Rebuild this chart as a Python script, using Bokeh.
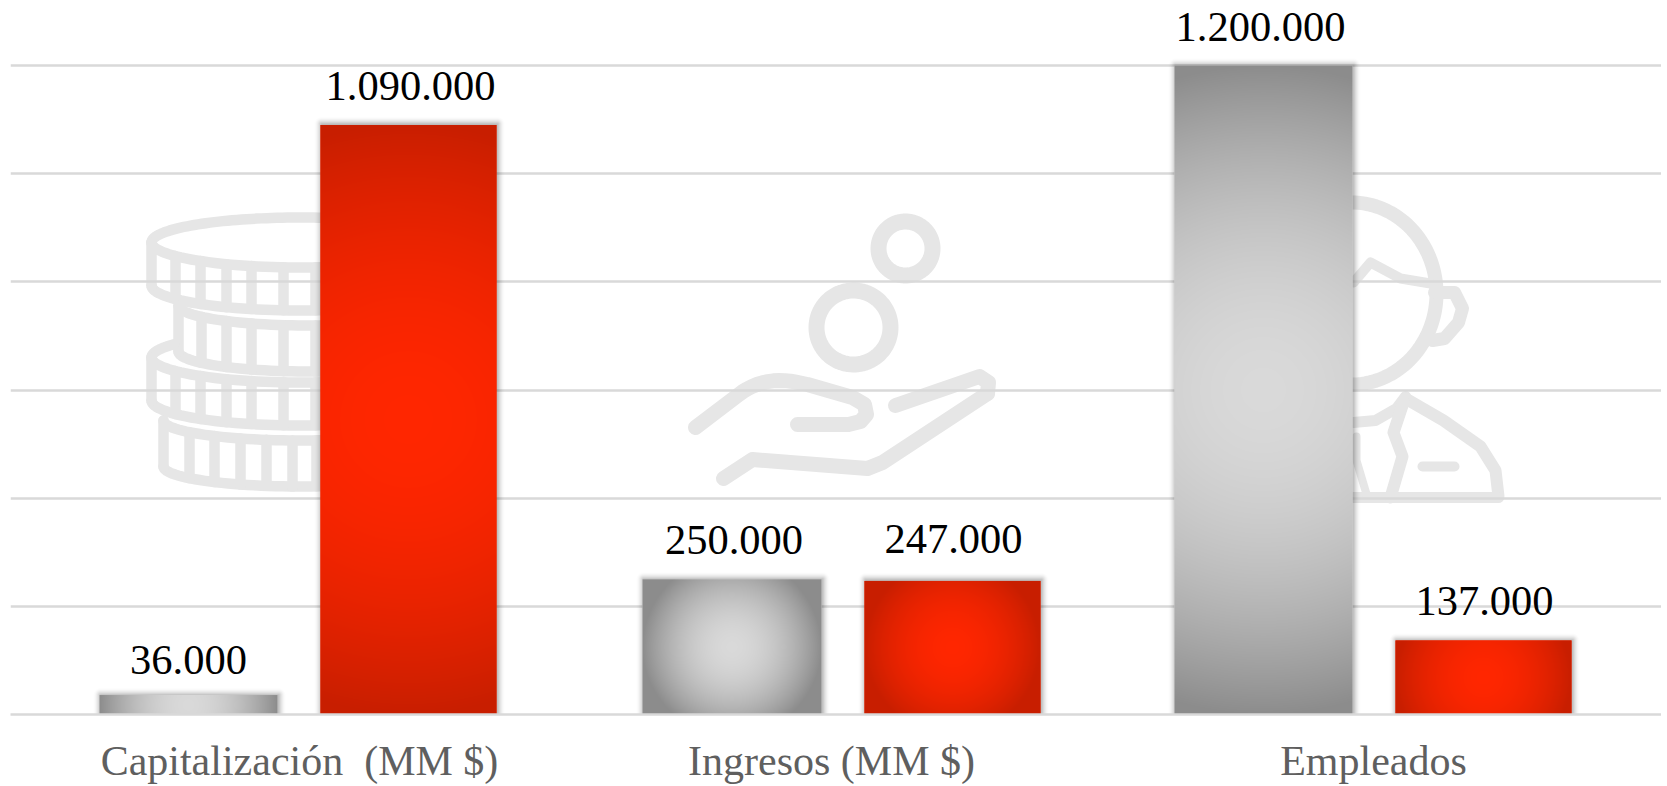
import numpy as np
from bokeh.core.properties import value
from bokeh.embed import file_html
from bokeh.models import FixedTicker, Range1d
from bokeh.plotting import figure
from bokeh.resources import INLINE

# ---------- data ----------
categories = ["Capitalización \u00a0(MM $)", "Ingresos (MM $)", "Empleados"]
series_gray = [36000, 250000, 1200000]
series_red = [1090000, 247000, 137000]
y_ticks = [0, 200000, 400000, 600000, 800000, 1000000, 1200000]

# ---------- layout (page pixels) ----------
FRAME_L, FRAME_R, FRAME_T, FRAME_B = 10, 1661, 0, 714
PAGE_H = 786
TOP_GRID_PX = 65
gray_edges = [(99, 277), (642, 821), (1174, 1352)]
red_edges = [(320, 496), (864, 1040), (1395, 1571)]
label_ticks = [299, 831, 1373]
gray_label_gap = [35, 39, 39]
red_label_gap = [39, 42, 39]
gray_label_shift = [0, 2, -3]
red_label_shift = [2, 1, 1]
FONT = "Liberation Serif"
ICON = "#e6e6e6"
GRID = "#d9d9d9"

px_per_unit = (FRAME_B - TOP_GRID_PX) / 1200000
y_end = (FRAME_B - FRAME_T) / px_per_unit

p = figure(width=FRAME_R, height=PAGE_H, output_backend="svg", toolbar_location=None,
           x_range=Range1d(FRAME_L, FRAME_R), y_range=Range1d(0, y_end),
           min_border_left=FRAME_L, min_border_right=0, min_border_top=0,
           min_border_bottom=PAGE_H - FRAME_B, outline_line_color=None,
           background_fill_color="white", border_fill_color="white")
p.extra_y_ranges = {"px": Range1d(FRAME_B, FRAME_T)}

# ---------- axes and grid ----------
p.yaxis.visible = False
p.xgrid.visible = False
p.ygrid.ticker = FixedTicker(ticks=y_ticks)
p.ygrid.grid_line_color = GRID
p.ygrid.grid_line_width = 2.6
ax = p.xaxis[0]
ax.ticker = FixedTicker(ticks=label_ticks)
ax.major_label_overrides = dict(zip(label_ticks, categories))
ax.major_label_text_font = FONT
ax.major_label_text_font_size = "42px"
ax.major_label_text_color = "#5f5f5f"
ax.major_label_standoff = 17
ax.major_tick_line_color = None
ax.minor_tick_line_color = None
ax.axis_line_color = GRID
ax.axis_line_width = 2.6


# ---------- background icons ----------
def stroke(xs, ys, w):
    r = p.line(xs, ys, y_range_name="px", line_color=ICON, line_width=w,
               line_cap="round", line_join="round", level="image")
    return r


def arc(cx, cy, a, b, t0, t1, n=60):
    t = np.radians(np.linspace(t0, t1, n))
    return cx + a * np.cos(t), cy + b * np.sin(t)


def coin(cx, cy, a, b, h, top_end, bars):
    w = 10.5
    stroke(*arc(cx, cy, a, b, 0, 180), w)
    if top_end > 180:
        stroke(*arc(cx, cy, a, b, 180, top_end, 90), w)
    stroke(*arc(cx, cy + h, a, b, 0, 180), w)
    stroke([cx - a, cx - a], [cy, cy + h], w)
    for bx in bars:
        yt = cy + b * np.sqrt(max(0, 1 - ((bx - cx) / a) ** 2))
        stroke([bx, bx], [yt, yt + h], w)


coin_bars = [175, 200, 226, 251, 283, 315]
coin_bars2 = [201, 226, 251, 283, 315]
coin(300, 242, 149, 25, 43, 360, coin_bars)
coin(308, 305, 130, 20, 46, 180, coin_bars2)
coin(300, 357, 149, 25, 43, 212, coin_bars)
coin(300, 420, 137, 20, 46, 180, [189, 214, 240, 266, 292, 316])

# hand
for cx, cy, r in [(905, 248, 27), (853, 327, 37)]:
    stroke(*arc(cx, cy, r, r, 0, 360, 100), 16)
hand_top = arc(780, 430, 60, 50, 225, 285, 12)
stroke(np.r_[695, hand_top[0], 807, 852, 864, 866, 860, 848, 797],
       np.r_[427, hand_top[1], 384, 397, 404, 414, 421, 424, 424], 15)
stroke([895, 979, 988, 987], [405, 376, 382, 393], 15)
stroke([723, 752, 867, 882, 987], [478, 459, 468, 462, 393], 15)

# person
stroke(*arc(1351, 293, 85, 91, -90, 90, 80), 14)
stroke([1434, 1454, 1462, 1458, 1444, 1432], [292, 292, 308, 322, 338, 340], 13)
stroke([1353, 1370, 1400, 1430], [282, 262, 278, 283], 10)
stroke([1353, 1375, 1396, 1405], [422, 420, 408, 396], 11)
stroke([1405, 1443, 1480, 1495, 1498], [398, 420, 446, 470, 496], 12)
stroke([1353, 1498], [497, 497], 11)
stroke([1403, 1393, 1402, 1390], [402, 432, 456, 497], 12)
stroke([1356, 1356, 1367], [436, 460, 497], 8)
stroke([1422, 1454], [466, 466], 10)


# ---------- bars ----------
def hex_rgb(c):
    return np.array([int(c[i:i + 2], 16) for i in (1, 3, 5)], dtype=float)


def gradient(w, h, centre, edge):
    yy, xx = np.mgrid[0:h, 0:w]
    d = np.hypot(xx + .5 - w / 2, yy + .5 - h / 2) / (max(w, h) / 2)
    t = np.clip(d, 0, 1)[..., None] ** 1.9
    rgb = hex_rgb(centre) * (1 - t) + hex_rgb(edge) * t
    img = np.empty((h, w), dtype=np.uint32)
    v = img.view(dtype=np.uint8).reshape((h, w, 4))
    v[..., :3] = rgb.round().astype(np.uint8)
    v[..., 3] = 255
    return img


def shadow(w, h, reach=8, off=1, strength=0.26):
    W, H = w + 2 * reach, h + reach
    yy, xx = np.mgrid[0:H, 0:W]
    dx = np.maximum(np.maximum(reach + off - (xx + .5), (xx + .5) - (reach + off + w)), 0)
    dy = np.maximum((yy + .5) - h, 0)
    d = np.hypot(dx, dy)
    a = strength * np.clip(1 - d / reach, 0, 1) ** 2
    img = np.empty((H, W), dtype=np.uint32)
    v = img.view(dtype=np.uint8).reshape((H, W, 4))
    v[..., :3] = 0
    v[..., 3] = (a * 255).round().astype(np.uint8)
    return img


def draw_series(values, edges, centre, edge, gaps, shifts):
    for val, (x0, x1), gap, shift in zip(values, edges, gaps, shifts):
        w = x1 - x0
        h = max(1, int(round(val * px_per_unit)))
        reach = 8
        p.image_rgba(image=[shadow(w, h, reach)], x=[x0 - reach], y=[0], dw=[w + 2 * reach],
                     dh=[val + reach / px_per_unit])
        p.vbar(x=[(x0 + x1) / 2], width=w, top=[val], bottom=0, fill_color=centre, line_color=None)
        p.image_rgba(image=[gradient(w, h, centre, edge)], x=[x0], y=[0], dw=[w], dh=[val])
        label = f"{val:,}".replace(",", ".")
        p.text(x=[(x0 + x1) / 2 + shift], y=[val], text=[label], y_offset=-gap,
               text_font=value(FONT), text_font_size="42.5px", text_color="black",
               text_align="center", text_baseline="alphabetic")


draw_series(series_gray, gray_edges, "#d9d9d9", "#8c8c8c", gray_label_gap, gray_label_shift)
draw_series(series_red, red_edges, "#ff2600", "#c81e00", red_label_gap, red_label_shift)

open("out.html", "w").write(file_html(p, INLINE))
